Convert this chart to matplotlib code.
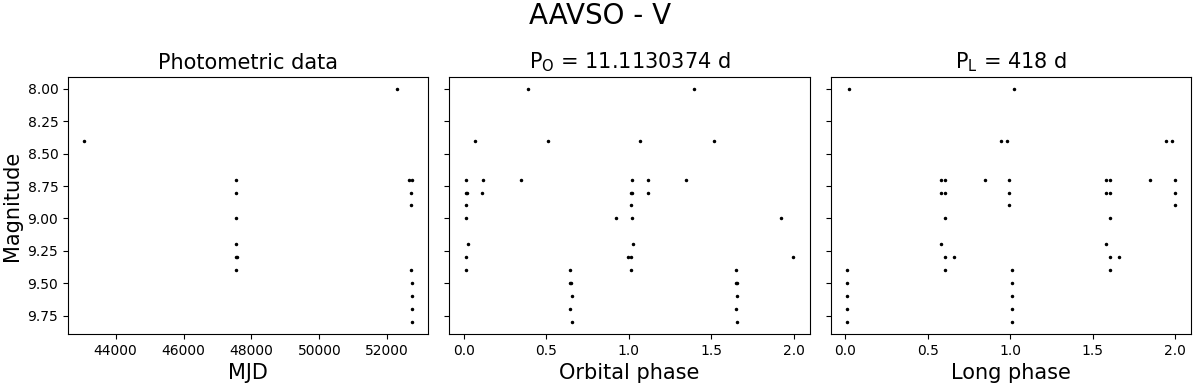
import matplotlib
matplotlib.use("Agg")
import matplotlib.pyplot as plt

# photometric data (MJD, V magnitude)
mjd = [43079, 47540, 47540, 47540, 47540, 47540, 47570, 47540,
       52293, 52630, 52730, 52700, 52700, 52700, 52730, 52715, 52715, 52715]
mag = [8.4, 8.7, 8.8, 9.0, 9.2, 9.3, 9.3, 9.4,
       8.0, 8.7, 8.7, 8.8, 8.9, 9.4, 9.5, 9.6, 9.7, 9.8]

# orbital phase (folded on P_O), one cycle
orb_phase = [0.392, 0.068, 0.513, 0.016, 0.117, 0.348, 0.014, 0.020, 0.113,
             0.014, 0.016, 0.920, 0.026, 0.012, 0.996, 0.014, 0.646,
             0.646, 0.652, 0.654, 0.646, 0.656]
orb_mag = [8.0, 8.4, 8.4, 8.7, 8.7, 8.7, 8.8, 8.8, 8.8,
           8.9, 9.0, 9.0, 9.2, 9.3, 9.3, 9.4, 9.4,
           9.5, 9.5, 9.6, 9.7, 9.8]

# long phase (folded on P_L), one cycle
long_phase = [0.022, 0.944, 0.982, 0.581, 0.605, 0.847, 0.996,
              0.581, 0.605, 0.996, 0.996, 0.605, 0.579, 0.605, 0.657,
              0.012, 0.605, 0.012, 0.012, 0.012, 0.012]
long_mag = [8.0, 8.4, 8.4, 8.7, 8.7, 8.7, 8.7,
            8.8, 8.8, 8.8, 8.9, 9.0, 9.2, 9.3, 9.3,
            9.4, 9.4, 9.5, 9.6, 9.7, 9.8]

fig, axes = plt.subplots(1, 3, figsize=(12, 3.83), dpi=100, sharey=True)
fig.subplots_adjust(left=0.0567, right=0.9925, top=0.799, bottom=0.128, wspace=0.058)
fig.suptitle("AAVSO - V", fontsize=20, y=0.995)

ax = axes[0]
ax.plot(mjd, mag, "k.", markersize=3)
ax.set_title("Photometric data", fontsize=15)
ax.set_xlabel("MJD", fontsize=15)
ax.set_ylabel("Magnitude", fontsize=15)

# phase plots show two cycles
ax = axes[1]
ax.plot(orb_phase + [p + 1 for p in orb_phase], orb_mag + orb_mag, "k.", markersize=3)
ax.set_title(r"P$_\mathrm{O}$ = 11.1130374 d", fontsize=15)
ax.set_xlabel("Orbital phase", fontsize=15)

ax = axes[2]
ax.plot(long_phase + [p + 1 for p in long_phase], long_mag + long_mag, "k.", markersize=3)
ax.set_title(r"P$_\mathrm{L}$ = 418 d", fontsize=15)
ax.set_xlabel("Long phase", fontsize=15)

axes[0].set_yticks([8.0, 8.25, 8.5, 8.75, 9.0, 9.25, 9.5, 9.75])
axes[0].invert_yaxis()
for a in axes:
    a.tick_params(labelsize=10)

fig.savefig("out.png")
